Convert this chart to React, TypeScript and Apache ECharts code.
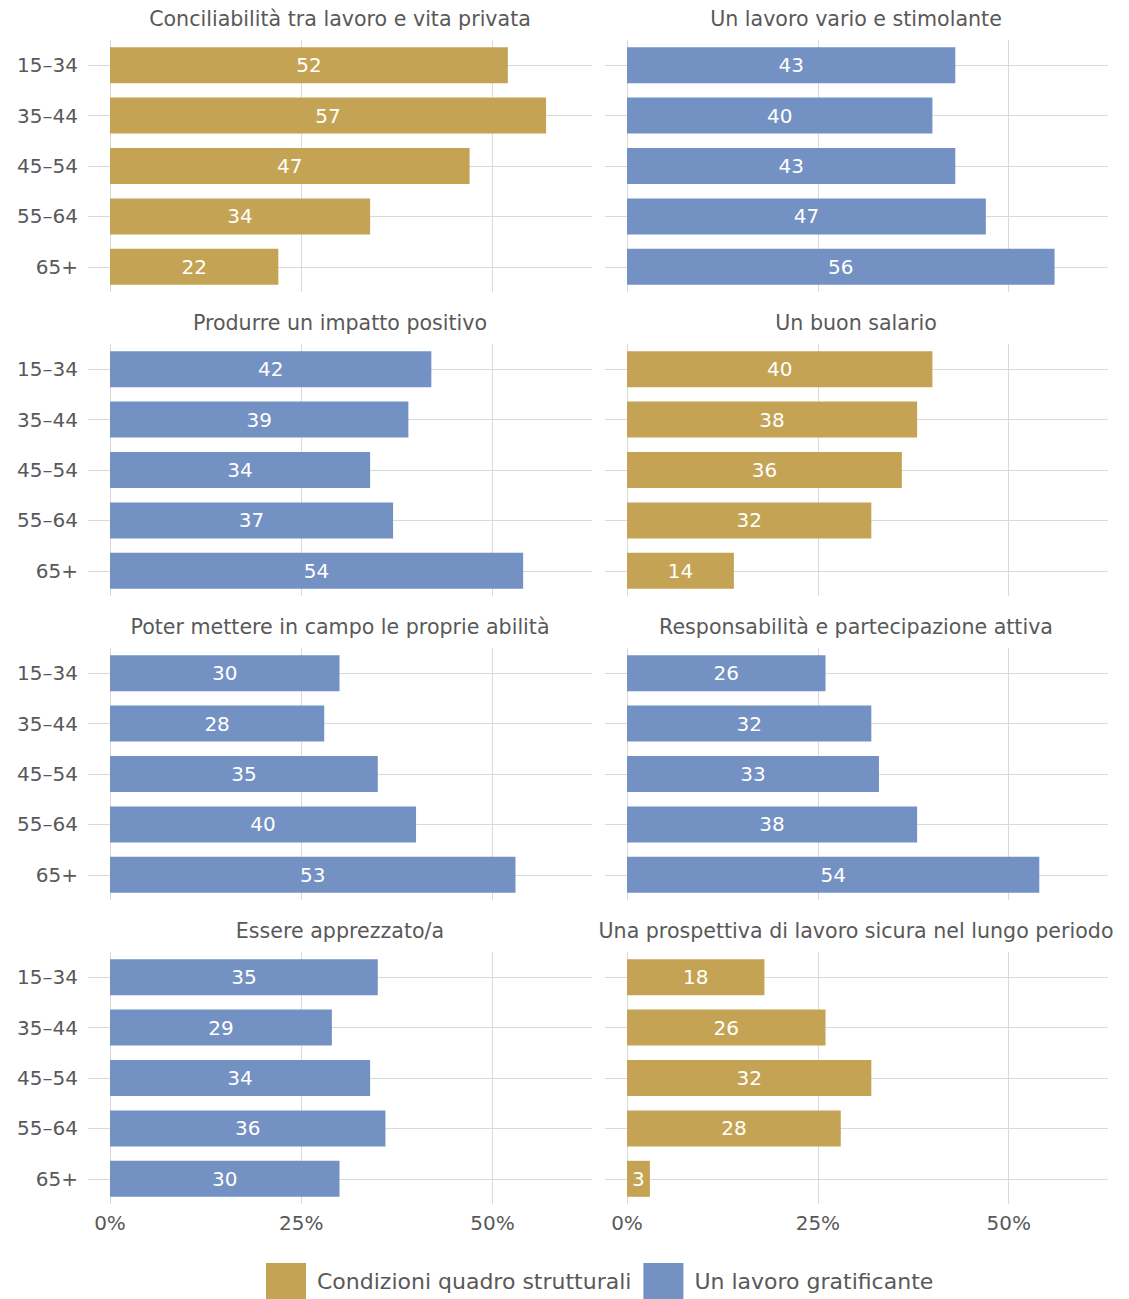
import React, { useEffect, useRef } from "react";
import * as echarts from "echarts";

const CATEGORIES = ["15–34", "35–44", "45–54", "55–64", "65+"];
const X_TICKS = [0, 25, 50];
const LEGEND_NAMES = ["Condizioni quadro strutturali", "Un lavoro gratificante"];
const TITLES = [
  "Conciliabilità tra lavoro e vita privata",
  "Un lavoro vario e stimolante",
  "Produrre un impatto positivo",
  "Un buon salario",
  "Poter mettere in campo le proprie abilità",
  "Responsabilità e partecipazione attiva",
  "Essere apprezzato/a",
  "Una prospettiva di lavoro sicura nel lungo periodo",
];
const conciliabilita = [52, 57, 47, 34, 22];
const varioStimolante = [43, 40, 43, 47, 56];
const impattoPositivo = [42, 39, 34, 37, 54];
const buonSalario = [40, 38, 36, 32, 14];
const abilita = [30, 28, 35, 40, 53];
const responsabilita = [26, 32, 33, 38, 54];
const apprezzato = [35, 29, 34, 36, 30];
const prospettiva = [18, 26, 32, 28, 3];
const PANEL_VALUES = [
  conciliabilita,
  varioStimolante,
  impattoPositivo,
  buonSalario,
  abilita,
  responsabilita,
  apprezzato,
  prospettiva,
];
// 0 = Condizioni quadro strutturali, 1 = Un lavoro gratificante
const PANEL_GROUP = [0, 1, 1, 0, 1, 1, 1, 0];

const COLORS = ["#C4A454", "#7491C3"];
const GRID_COLOR = "#D9D9D9";
const TEXT_COLOR = "#595959";
const FONT = "'DejaVu Sans', sans-serif";

export default function App() {
  const ref = useRef<HTMLDivElement>(null);
  useEffect(() => {
    if (!ref.current) return;
    const chart = echarts.init(ref.current, null, { renderer: "svg" });
    const grids: any[] = [];
    const xAxes: any[] = [];
    const yAxes: any[] = [];
    const series: any[] = [];
    const graphics: any[] = [];
    for (let i = 0; i < 8; i++) {
      const row = Math.floor(i / 2);
      const col = i % 2;
      const left = col === 0 ? 110 : 627;
      const width = col === 0 ? 482 : 481;
      const top = 40 + row * 304;
      grids.push({ left, top, width, height: 252 });
      xAxes.push({
        type: "value",
        gridIndex: i,
        min: 0,
        max: 63,
        interval: 25,
        axisLine: { show: false },
        axisTick: { show: false },
        splitLine: {
          show: true,
          showMaxLine: false,
          lineStyle: { color: GRID_COLOR, width: 1 },
        },
        axisLabel: {
          show: row === 3,
          showMaxLabel: false,
          formatter: (v: number) => (X_TICKS.includes(v) ? v + "%" : ""),
          color: TEXT_COLOR,
          fontSize: 20,
          fontFamily: FONT,
          margin: 9,
        },
      });
      yAxes.push({
        type: "category",
        gridIndex: i,
        data: CATEGORIES,
        inverse: true,
        axisLine: { show: false },
        axisTick: {
          show: true,
          alignWithLabel: true,
          length: 22,
          lineStyle: { color: GRID_COLOR, width: 1 },
        },
        axisLabel: {
          show: col === 0,
          color: TEXT_COLOR,
          fontSize: 20,
          fontFamily: FONT,
          margin: 32,
        },
      });
      series.push({
        type: "line",
        name: "gridlines" + i,
        xAxisIndex: i,
        yAxisIndex: i,
        data: [],
        z: 1,
        silent: true,
        markLine: {
          silent: true,
          z: 1,
          symbol: ["none", "none"],
          label: { show: false },
          lineStyle: { color: GRID_COLOR, width: 1, type: "solid" },
          emphasis: { disabled: true },
          data: CATEGORIES.map((c) => ({ yAxis: c })),
        },
      });
      const g = PANEL_GROUP[i];
      series.push({
        type: "bar",
        name: LEGEND_NAMES[g],
        xAxisIndex: i,
        yAxisIndex: i,
        data: PANEL_VALUES[i],
        barWidth: 36,
        z: 3,
        itemStyle: { color: COLORS[g] },
        label: {
          show: true,
          position: "inside",
          color: "#FFFFFF",
          fontSize: 20,
          fontFamily: FONT,
        },
      });
      graphics.push({
        type: "text",
        x: col === 0 ? 340 : 856,
        y: 19 + row * 304,
        style: {
          text: TITLES[i],
          fill: TEXT_COLOR,
          fontSize: 20.6,
          fontFamily: FONT,
          textAlign: "center",
          textVerticalAlign: "middle",
        },
      });
    }
    chart.setOption({
      animation: false,
      color: COLORS,
      grid: grids,
      xAxis: xAxes,
      yAxis: yAxes,
      series,
      graphic: graphics,
      legend: {
        data: LEGEND_NAMES,
        left: 266,
        top: 1263,
        padding: 0,
        icon: "rect",
        itemWidth: 40,
        itemHeight: 36,
        itemGap: 12,
        textStyle: {
          color: TEXT_COLOR,
          fontSize: 22,
          fontFamily: FONT,
          padding: [0, 0, 0, 6],
        },
      },
    });
    return () => chart.dispose();
  }, []);
  return (
    <div
      ref={ref}
      style={{ position: "absolute", left: 0, top: 0, width: 1129, height: 1299 }}
    />
  );
}
